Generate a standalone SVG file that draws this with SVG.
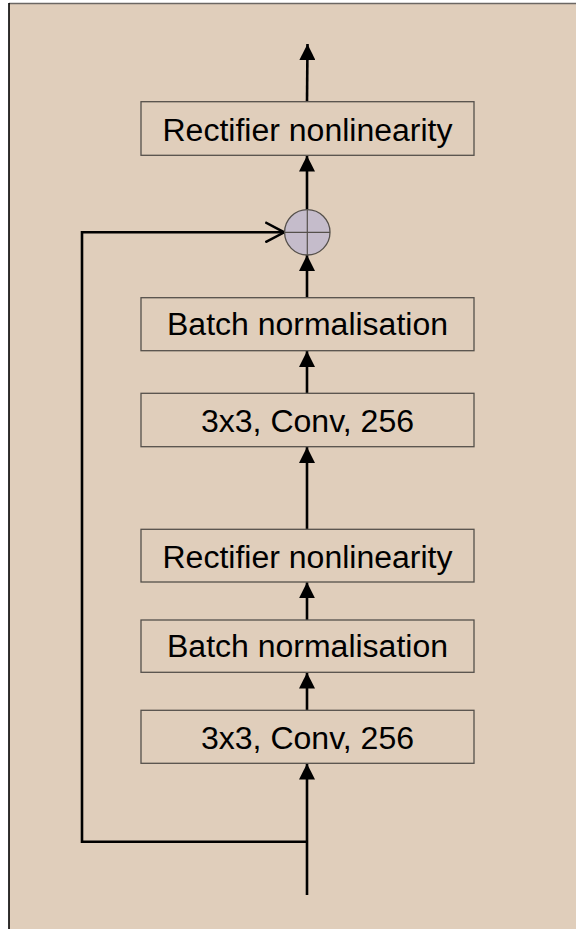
<svg xmlns="http://www.w3.org/2000/svg" width="576" height="929" viewBox="0 0 576 929">
<style>
.box{fill:#E0CEBB;stroke:#55504b;stroke-width:1.3}
.lbl{font-family:"Liberation Sans",Arial,sans-serif;font-size:31px;fill:#000;text-anchor:middle}
.con{fill:none;stroke:#000;stroke-width:2.6}
</style>
<defs>
<marker id="ah" viewBox="0 0 16 16" refX="16" refY="8" markerWidth="16" markerHeight="16" markerUnits="userSpaceOnUse" orient="auto">
<path d="M0,0 L16,8 L0,16 Z" fill="#000"/>
</marker>
<marker id="open" viewBox="0 0 20 22" refX="19" refY="11" markerWidth="20" markerHeight="22" markerUnits="userSpaceOnUse" orient="auto">
<path d="M0,1 L19,11 L0,21" fill="none" stroke="#000" stroke-width="2.5"/>
</marker>
</defs>
<rect x="0" y="0" width="576" height="929" fill="#ffffff"/>
<rect x="9" y="3.5" width="567" height="925.5" fill="#E0CEBB"/>
<line x1="9" y1="3.5" x2="576" y2="3.5" stroke="#6b6763" stroke-width="1.6"/>
<line x1="9" y1="3" x2="9" y2="929" stroke="#000" stroke-width="1.6"/>

<g id="connectors">
<line class="con" x1="307" y1="101.7" x2="307.5" y2="44" marker-end="url(#ah)"/>
<line class="con" x1="307" y1="209.6" x2="307" y2="155.6" marker-end="url(#ah)"/>
<line class="con" x1="307" y1="297.7" x2="307" y2="255" marker-end="url(#ah)"/>
<line class="con" x1="307" y1="393.3" x2="307" y2="351" marker-end="url(#ah)"/>
<line class="con" x1="307" y1="529.3" x2="307" y2="447" marker-end="url(#ah)"/>
<line class="con" x1="307" y1="620" x2="307" y2="582.3" marker-end="url(#ah)"/>
<line class="con" x1="307" y1="710.3" x2="307" y2="672.6" marker-end="url(#ah)"/>
<line class="con" x1="307" y1="895" x2="307" y2="763.6" marker-end="url(#ah)"/>
<path class="con" d="M307,841.7 L82,841.7 L82,232.3 L284.3,232.3" marker-end="url(#open)"/>
</g>

<g id="add">
<circle cx="307.3" cy="232.3" r="22.7" fill="#C5BCCB" stroke="#55504b" stroke-width="1.3"/>
<line x1="284.6" y1="232.3" x2="330" y2="232.3" stroke="#55504b" stroke-width="1.2"/>
<line x1="307.3" y1="209.6" x2="307.3" y2="255" stroke="#55504b" stroke-width="1.2"/>
</g>

<g id="relu_top">
<rect class="box" x="141" y="101.7" width="333" height="53.6"/>
<text class="lbl" x="307.5" y="140.7" textLength="290" lengthAdjust="spacingAndGlyphs">Rectifier nonlinearity</text>
</g>
<g id="bn_top">
<rect class="box" x="141" y="297.7" width="333" height="53"/>
<text class="lbl" x="307.5" y="335" textLength="281" lengthAdjust="spacingAndGlyphs">Batch normalisation</text>
</g>
<g id="conv_top">
<rect class="box" x="141" y="393.3" width="333" height="53.4"/>
<text class="lbl" x="307.5" y="431.7" textLength="213" lengthAdjust="spacingAndGlyphs">3x3, Conv, 256</text>
</g>
<g id="relu_bottom">
<rect class="box" x="141" y="529.3" width="333" height="52.7"/>
<text class="lbl" x="307.5" y="568" textLength="290" lengthAdjust="spacingAndGlyphs">Rectifier nonlinearity</text>
</g>
<g id="bn_bottom">
<rect class="box" x="141" y="620" width="333" height="52.3"/>
<text class="lbl" x="307.5" y="657" textLength="281" lengthAdjust="spacingAndGlyphs">Batch normalisation</text>
</g>
<g id="conv_bottom">
<rect class="box" x="141" y="710.3" width="333" height="53"/>
<text class="lbl" x="307.5" y="748.5" textLength="213" lengthAdjust="spacingAndGlyphs">3x3, Conv, 256</text>
</g>
</svg>
